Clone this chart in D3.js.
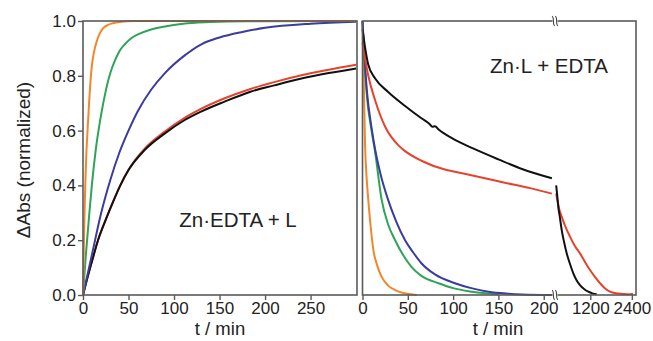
<!DOCTYPE html>
<html><head><meta charset="utf-8">
<script src="https://cdn.jsdelivr.net/npm/d3@7"></script>
<style>body{margin:0;background:#fff}svg{display:block}text{font-family:"Liberation Sans",Arial,sans-serif;fill:#222}</style>
</head><body><svg id="c" width="653" height="341"></svg>
<script>
// ---- data ----
const yTicks = [0, 0.2, 0.4, 0.6, 0.8, 1.0];
const leftXTicks = [0, 50, 100, 150, 200, 250];
const rightXTicks1 = [0, 50, 100, 150, 200];
const rightXTicks2 = [1200, 2400];

// Left panel: Zn·EDTA + L  [t(min), normalized ΔAbs]
const leftOrange = [[0,0],[0.8,0.15],[1.5,0.27],[2.5,0.4],[3.5,0.5],[5,0.6],[6.5,0.69],[8,0.77],[9.5,0.83],[12,0.885],[15,0.925],[18.5,0.955],[22,0.973],[27,0.985],[33,0.992],[42,0.997],[55,1.0],[300,1.0]];
const leftGreen = [[0,0],[3,0.14],[7,0.3],[10,0.41],[14,0.53],[19.5,0.65],[25,0.745],[30,0.81],[35,0.855],[40,0.89],[46,0.915],[53,0.937],[61,0.952],[74,0.968],[90,0.98],[110,0.99],[140,0.996],[180,0.999],[300,1.0]];
const leftBlue = [[0,0],[10,0.15],[20,0.3],[30,0.42],[40,0.52],[50,0.6],[60,0.67],[75,0.75],[90,0.81],[110,0.87],[130,0.915],[150,0.94],[175,0.96],[200,0.975],[250,0.99],[300,0.997]];
const leftRed = [[0,0],[5,0.065],[10,0.125],[16.5,0.2],[25,0.275],[33,0.34],[41,0.4],[50,0.457],[68,0.535],[90,0.597],[110,0.643],[129,0.678],[155,0.717],[184,0.752],[210,0.777],[240,0.802],[270,0.822],[300,0.84]];
const leftBlack = [[0,0],[5,0.065],[10,0.125],[16.5,0.2],[25,0.275],[33,0.34],[41,0.4],[50,0.456],[68,0.53],[90,0.59],[110,0.635],[129,0.668],[155,0.705],[184,0.742],[210,0.765],[240,0.79],[270,0.81],[300,0.827]];

// Right panel: Zn·L + EDTA, first segment (0–210 min)
const rightOrange = [[0,1.0],[1,0.85],[2.8,0.55],[4.5,0.43],[6.4,0.347],[9,0.25],[12,0.164],[16,0.11],[21,0.067],[28,0.035],[36,0.018],[45,0.007],[60,0.0]];
const rightGreen = [[0,1.0],[2,0.86],[5,0.72],[10,0.6],[14,0.52],[21,0.35],[28,0.26],[36,0.2],[45,0.145],[54,0.103],[65,0.07],[84,0.043],[100,0.025],[121,0.012],[150,0.002]];
const rightBlue = [[0,1.0],[2,0.88],[5,0.74],[10,0.61],[14,0.53],[20,0.44],[28,0.35],[37,0.27],[47,0.2],[56,0.155],[65,0.116],[80,0.075],[102,0.043],[120,0.025],[139,0.012],[160,0.005],[176,0.002],[209,0.0]];
const rightRed = [[0,0.92],[3,0.86],[6.4,0.8],[14,0.71],[25,0.614],[40,0.545],[47,0.525],[65,0.49],[91,0.458],[102,0.45],[130,0.43],[157,0.41],[185,0.39],[209,0.37]];
const rightBlack = [[0,0.97],[3,0.9],[6.4,0.84],[14,0.79],[28,0.742],[47,0.69],[65,0.645],[74,0.624],[77,0.614],[80,0.616],[84,0.604],[100,0.57],[122,0.535],[150,0.495],[176,0.46],[209,0.426]];
// Right panel, second segment (after axis break)
const right2Red = [[215,0.37],[260,0.34],[300,0.315],[375,0.286],[480,0.25],[614,0.213],[750,0.18],[903,0.152],[1050,0.12],[1192,0.091],[1340,0.065],[1481,0.043],[1620,0.025],[1769,0.012],[1950,0.006],[2145,0.004],[2300,0.003],[2433,0.005]];
const right2Black = [[215,0.4],[240,0.37],[276,0.322],[320,0.285],[375,0.237],[440,0.195],[519,0.152],[610,0.115],[710,0.079],[800,0.055],[903,0.036],[1020,0.022],[1143,0.012],[1260,0.006],[1385,0.003]];

const colors = {orange:"#f4862a", green:"#2ea457", blue:"#3b3c9c", red:"#e5432d", black:"#111111"};

// ---- drawing ----
const svg = d3.select("#c");
const y = d3.scaleLinear().domain([0,1]).range([295,21]);
const xL = d3.scaleLinear().domain([0,301]).range([83,357]);
const xR1 = d3.scaleLinear().domain([0,210]).range([362.5,552.8]);
const xR2 = d3.scaleLinear().domain([210,2520]).range([556,636]);
const frameColor = "#5a5a5a";

function drawLine(data, xs, color){
  svg.append("path").datum(data)
    .attr("fill","none").attr("stroke",color).attr("stroke-width",2)
    .attr("stroke-linejoin","round")
    .attr("d", d3.line().x(d=>xs(d[0])).y(d=>y(d[1])).curve(d3.curveMonotoneX));
}

// left panel lines
drawLine(leftRed, xL, colors.red);
drawLine(leftBlack, xL, colors.black);
drawLine(leftBlue, xL, colors.blue);
drawLine(leftGreen, xL, colors.green);
drawLine(leftOrange, xL, colors.orange);

// right panel lines
drawLine(rightOrange, xR1, colors.orange);
drawLine(rightGreen, xR1, colors.green);
drawLine(rightBlue, xR1, colors.blue);
drawLine(rightRed, xR1, colors.red);
drawLine(rightBlack, xR1, colors.black);
drawLine(right2Red, xR2, colors.red);
drawLine(right2Black, xR2, colors.black);

// frames
svg.append("rect").attr("x",83).attr("y",21).attr("width",357-83).attr("height",295-21)
  .attr("fill","none").attr("stroke",frameColor).attr("stroke-width",1.6);
svg.append("rect").attr("x",362.5).attr("y",21).attr("width",636-362.5).attr("height",295-21)
  .attr("fill","none").attr("stroke",frameColor).attr("stroke-width",1.6);

function styleAxis(g){
  g.select(".domain").remove();
  g.selectAll(".tick line").attr("stroke",frameColor).attr("stroke-width",1.4);
  g.selectAll(".tick text").style("font-size","17px").attr("fill","#222");
}
// y axis
svg.append("g").attr("transform","translate(83,0)")
  .call(d3.axisLeft(y).tickValues(yTicks).tickFormat(d3.format(".1f")).tickSize(5).tickPadding(2))
  .call(styleAxis);
// left x axis
svg.append("g").attr("transform","translate(0,295)")
  .call(d3.axisBottom(xL).tickValues(leftXTicks).tickSize(5).tickPadding(2))
  .call(styleAxis);
// right x axes
svg.append("g").attr("transform","translate(0,295)")
  .call(d3.axisBottom(xR1).tickValues(rightXTicks1).tickSize(5).tickPadding(2))
  .call(styleAxis);
svg.append("g").attr("transform","translate(0,295)")
  .call(d3.axisBottom(xR2).tickValues(rightXTicks2).tickFormat(d3.format("d")).tickSize(5).tickPadding(2))
  .call(styleAxis);

// axis break marks
[21,295].forEach(yy=>{
  const bx = 555;
  svg.append("rect").attr("x",bx-2.5).attr("y",yy-2).attr("width",5).attr("height",4).attr("fill","#fff");
  [-1.6,1.6].forEach(dx=>{
    svg.append("path")
      .attr("d",`M${bx+dx-1.2},${yy-5} C${bx+dx+1.5},${yy-2} ${bx+dx-1.5},${yy+2} ${bx+dx+1.2},${yy+5}`)
      .attr("fill","none").attr("stroke","#444").attr("stroke-width",1.1);
  });
});

// labels
svg.append("text").attr("x",220).attr("y",335).attr("text-anchor","middle").style("font-size","18.5px").text("t / min");
svg.append("text").attr("x",498).attr("y",335).attr("text-anchor","middle").style("font-size","18.5px").text("t / min");
svg.append("text").attr("transform","translate(30,160) rotate(-90)").attr("text-anchor","middle").style("font-size","19px").text("ΔAbs (normalized)");
svg.append("text").attr("x",238).attr("y",227).attr("text-anchor","middle").style("font-size","20.5px").text("Zn·EDTA + L");
svg.append("text").attr("x",549).attr("y",73).attr("text-anchor","middle").style("font-size","20.5px").text("Zn·L + EDTA");
</script></body></html>
